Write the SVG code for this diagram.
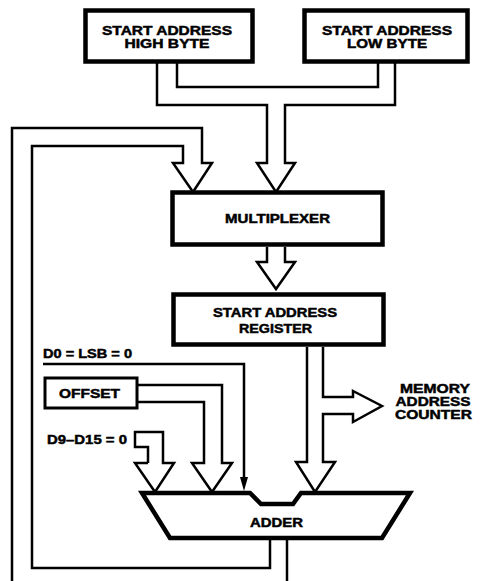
<svg xmlns="http://www.w3.org/2000/svg" width="483" height="581" viewBox="0 0 483 581">
<style>
.box{fill:#fff;stroke:#000;stroke-width:4.5}
.sbox{fill:#fff;stroke:#000;stroke-width:3}
.c{fill:none;stroke:#000;stroke-width:2.5;stroke-linejoin:miter}
.t{font-family:"Liberation Sans",Arial,Helvetica,sans-serif;font-weight:bold;font-size:12px;fill:#000;stroke:#000;stroke-width:0.45}
.m{text-anchor:middle}
</style>
<rect width="483" height="581" fill="#fff"/>
<g id="connectors">
  <path class="c" d="M157,63 V105 H267 V163 H257 L276,192 L295,163 H285 V105 H395 V63"/>
  <path class="c" d="M177,63 V87 H378 V63"/>
  <path class="c" d="M12,581 V128 H202 V163 H212 L193,192 L173,163 H183 V146 H32 V568 H270 V538"/>
  <path class="c" d="M287,538 V581"/>
  <path class="c" d="M267,247 V262 H257 L276,289 L295,262 H285 V247"/>
  <path class="c" d="M43,364 H244 V478"/>
  <polygon points="240,477 248,477 244,491" fill="#000"/>
  <path class="c" d="M137,385 H222 V463 H232 L212,492 L192,463 H204 V402 H137"/>
  <path class="c" d="M148,463 V447 H135 V432 H163 V463 H174 L155,492 L135,463 H148"/>
  <path class="c" d="M307,347 V462 H296 L315,492 L335,462 H323 V414 H353 V422 L382,406 L353,391 V397 H323 V347"/>
</g>
<g id="high-byte">
  <rect class="box" x="85.5" y="10.5" width="167" height="51"/>
  <text class="t m" x="167" y="35" textLength="130" lengthAdjust="spacingAndGlyphs">START ADDRESS</text>
  <text class="t m" x="167" y="48" textLength="85" lengthAdjust="spacingAndGlyphs">HIGH BYTE</text>
</g>
<g id="low-byte">
  <rect class="box" x="304.5" y="10.5" width="163" height="51"/>
  <text class="t m" x="387" y="35" textLength="130" lengthAdjust="spacingAndGlyphs">START ADDRESS</text>
  <text class="t m" x="387" y="48" textLength="80" lengthAdjust="spacingAndGlyphs">LOW BYTE</text>
</g>
<g id="multiplexer">
  <rect class="box" x="172.5" y="192.5" width="210" height="52"/>
  <text class="t m" x="277.5" y="223" textLength="105" lengthAdjust="spacingAndGlyphs">MULTIPLEXER</text>
</g>
<g id="start-address-register">
  <rect class="box" x="173.5" y="294.5" width="210" height="50"/>
  <text class="t m" x="275" y="317" textLength="124" lengthAdjust="spacingAndGlyphs">START ADDRESS</text>
  <text class="t m" x="275.5" y="333" textLength="73" lengthAdjust="spacingAndGlyphs">REGISTER</text>
</g>
<g id="offset">
  <rect class="sbox" x="45" y="378" width="92" height="30"/>
  <text class="t" x="59" y="398" textLength="61" lengthAdjust="spacingAndGlyphs">OFFSET</text>
</g>
<g id="d0-label">
  <text class="t" x="43" y="358" textLength="89" lengthAdjust="spacingAndGlyphs">D0 = LSB = 0</text>
</g>
<g id="d9-label">
  <text class="t" x="47" y="444" textLength="80" lengthAdjust="spacingAndGlyphs">D9–D15 = 0</text>
</g>
<g id="memory-address-counter">
  <text class="t m" x="435" y="393" textLength="70" lengthAdjust="spacingAndGlyphs">MEMORY</text>
  <text class="t m" x="433" y="406" textLength="75" lengthAdjust="spacingAndGlyphs">ADDRESS</text>
  <text class="t m" x="433.5" y="419" textLength="77" lengthAdjust="spacingAndGlyphs">COUNTER</text>
</g>
<g id="adder">
  <path class="box" d="M142,493 H250 L261,504 H293 L301,493 H410 L382,538 H170 Z"/>
  <text class="t m" x="276.5" y="527" textLength="53" lengthAdjust="spacingAndGlyphs">ADDER</text>
</g>
</svg>
